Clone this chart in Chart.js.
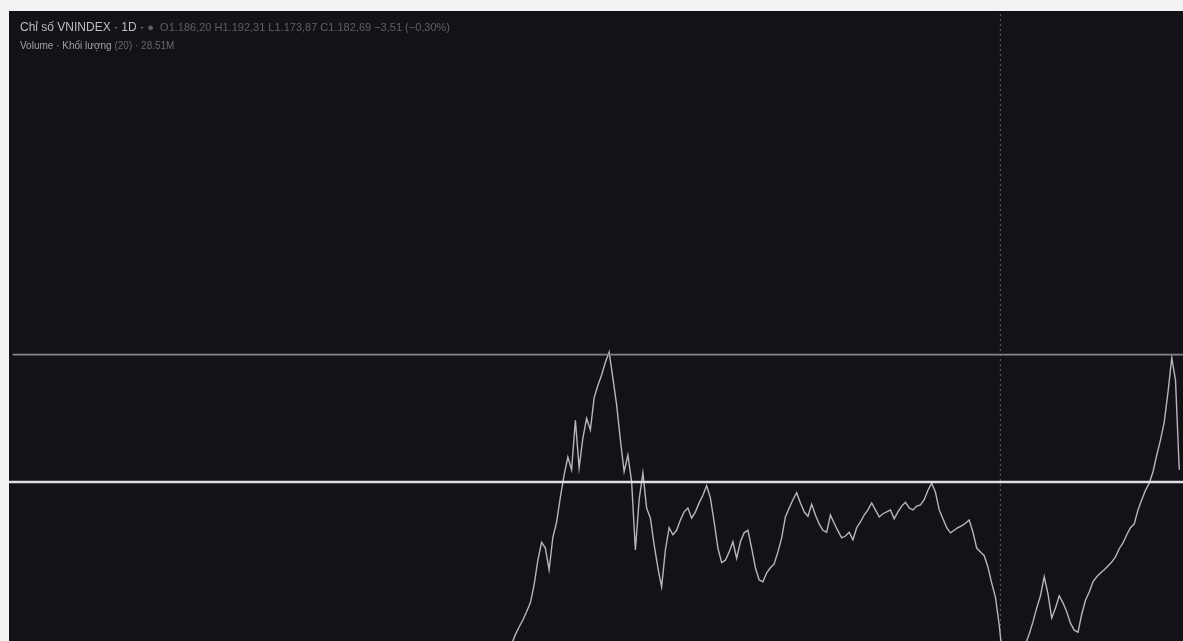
<!DOCTYPE html>
<html>
<head>
<meta charset="utf-8">
<script src="https://cdn.jsdelivr.net/npm/chart.js@4/dist/chart.umd.min.js"></script>
<style>
  html, body { margin: 0; padding: 0; background: #f3f3f5; width: 1183px; height: 641px; overflow: hidden; }
  #panel { position: absolute; left: 9px; top: 11px; width: 1174px; height: 630px; background: #131317; }
  #c { position: absolute; left: 0; top: 0; }
  .hdr { position: absolute; left: 11px; font-family: "Liberation Sans", "DejaVu Sans", sans-serif; white-space: nowrap; }
  #h1 { top: 9px; font-size: 12px; color: #bdbdc2; }
  #h1 .dim { color: #5f5f66; font-size: 11px; }
  #h2 { top: 29px; font-size: 10px; color: #a0a0a6; }
  #h2 .dim { color: #66666c; }
</style>
</head>
<body>
<div id="panel">
  <canvas id="c" width="1174" height="630"></canvas>
  <div class="hdr" id="h1">Chỉ số VNINDEX · 1D · <span class="dim">●&nbsp;&nbsp;O1.186,20 H1.192,31 L1.173,87 C1.182,69 −3,51 (−0,30%)</span></div>
  <div class="hdr" id="h2">Volume · Khối lượng <span class="dim">(20) · 28.51M</span></div>
</div>
<script>
// Weekly index (weeks since the left edge of the chart) of the first visible close
const startWeek = 134;
const axisWeeks = [0, 313];
// VNINDEX weekly closes (values under 750 fall below the visible area)
const closes = [
  745, 760, 772, 783, 796, 810, 838, 877, 905, 896,
  862, 913, 937, 976, 1011, 1039, 1019, 1097, 1022, 1069,
  1100, 1082, 1132, 1152, 1168, 1188, 1204, 1163, 1121, 1066,
  1016, 1042, 1000, 893, 972, 1014, 959, 943, 901, 865,
  835, 893, 928, 917, 924, 940, 953, 959, 943, 953,
  967, 979, 994, 975, 937, 896, 873, 877, 890, 906,
  880, 906, 920, 924, 896, 865, 846, 843, 857, 865,
  871, 890, 912, 945, 959, 972, 983, 967, 953, 946,
  965, 948, 934, 924, 921, 948, 935, 923, 912, 915,
  921, 909, 928, 937, 948, 956, 967, 956, 945, 950,
  953, 956, 942, 953, 962, 968, 959, 956, 962, 964,
  972, 987, 998, 984, 956, 942, 928, 920, 924, 928,
  931, 935, 940, 921, 896, 890, 884, 866, 841, 819,
  775, 720, 690, 665, 680, 700, 725, 745, 761, 780,
  802, 821, 851, 824, 786, 802, 821, 810, 796, 778,
  767, 764, 792, 814, 827, 843, 851, 857, 862, 868,
  874, 882, 895, 904, 917, 928, 934, 956, 972, 987,
  998, 1016, 1042, 1066, 1094, 1141, 1195, 1160, 1019
];
const levelHigh = 1200;
const levelLow = 1000;
const markerWeek = 264.3;
const priceRange = [750, 1740];

const points = closes.map((v, i) => ({ x: startWeek + i, y: v }));

new Chart(document.getElementById('c'), {
  type: 'line',
  data: {
    datasets: [
      {
        data: [{ x: axisWeeks[0] + 1, y: levelHigh }, { x: axisWeeks[1], y: levelHigh }],
        borderColor: '#85858a', borderWidth: 1.8, pointRadius: 0
      },
      {
        data: [{ x: axisWeeks[0], y: levelLow }, { x: axisWeeks[1], y: levelLow }],
        borderColor: '#e0e0e4', borderWidth: 2.5, pointRadius: 0
      },
      {
        data: [{ x: markerWeek, y: priceRange[0] }, { x: markerWeek, y: priceRange[1] }],
        borderColor: 'rgba(200,200,205,0.45)', borderWidth: 1, borderDash: [2, 3], pointRadius: 0
      },
      {
        data: points,
        borderColor: '#b6b6bb', borderWidth: 1.4, pointRadius: 0, tension: 0
      }
    ]
  },
  options: {
    responsive: false,
    animation: false,
    events: [],
    layout: { padding: 0 },
    plugins: { legend: { display: false }, tooltip: { enabled: false } },
    scales: {
      x: { type: 'linear', min: axisWeeks[0], max: axisWeeks[1], display: false },
      y: { type: 'linear', min: priceRange[0], max: priceRange[1], display: false }
    }
  }
});
</script>
</body>
</html>
